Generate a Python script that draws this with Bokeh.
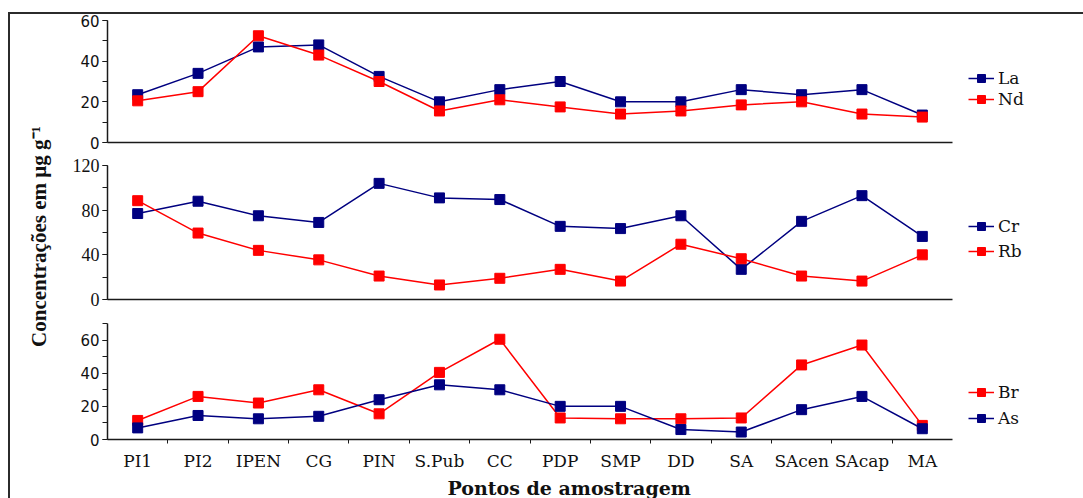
import math
from bokeh.plotting import figure
from bokeh.models import Range1d, FixedTicker, SingleIntervalTicker, Legend, LegendItem, Label, Title
from bokeh.layouts import column, row
from bokeh.embed import file_html
from bokeh.resources import INLINE

# ---- data ----
categories = ["PI1", "PI2", "IPEN", "CG", "PIN", "S.Pub", "CC", "PDP", "SMP", "DD",
              "SA", "SAcen", "SAcap", "MA"]
la = [23.5, 34, 47, 48, 32.5, 20, 26, 30, 20, 20, 26, 23.5, 26, 13.5]
nd = [20.5, 25, 52.5, 43, 30, 15.5, 21, 17.5, 14, 15.5, 18.5, 20, 14, 12.5]
cr = [77, 88, 75, 69, 104, 91, 89.5, 65.5, 63.5, 75, 27, 70, 93, 56.5]
rb = [88.5, 59.5, 44, 35.5, 21, 13, 19, 27, 16.5, 49.5, 36.5, 21, 16.5, 40]
br = [11.5, 26, 22, 30, 15.5, 40.5, 60.5, 13, 12.5, 12.5, 13, 45, 57, 8.5]
as_ = [7, 14.5, 12.5, 14, 24, 33, 30, 20, 20, 6, 4.5, 18, 26, 6.5]

y_label = "Concentrações em µg g⁻¹"
x_label = "Pontos de amostragem"

NAVY = "#000080"
RED = "#FF0000"
AXC = "#1a1a1a"

xs = list(range(1, len(categories) + 1))


def make_panel(frame_h, top, bottom, ymax, interval, series, legend_order, leg_y,
               leg_spacing, tick_font, tick_size, show_x=False):
    p = figure(frame_width=845, frame_height=frame_h,
               x_range=Range1d(0.5, len(categories) + 0.5), y_range=Range1d(0, ymax),
               output_backend="svg", toolbar_location=None,
               min_border_left=47, min_border_right=131,
               min_border_top=top, min_border_bottom=bottom)
    p.grid.visible = False
    p.outline_line_color = None
    p.background_fill_color = "white"
    p.border_fill_color = "white"

    yax = p.yaxis[0]
    yax.ticker = SingleIntervalTicker(interval=interval, num_minor_ticks=2)
    yax.axis_line_color = AXC
    yax.axis_line_width = 1.5
    yax.major_tick_line_color = AXC
    yax.minor_tick_line_color = AXC
    yax.major_tick_out = 5
    yax.major_tick_in = 0
    yax.minor_tick_out = 5
    yax.minor_tick_in = 0
    yax.major_label_text_font = tick_font
    yax.major_label_text_font_size = tick_size
    yax.major_label_text_color = "#111111"
    yax.major_label_standoff = 3

    xax = p.xaxis[0]
    xax.axis_line_color = AXC
    xax.axis_line_width = 1.5
    if show_x:
        xax.ticker = FixedTicker(ticks=xs, minor_ticks=[x + 0.5 for x in xs[:-1]])
        xax.major_label_overrides = {x: c for x, c in zip(xs, categories)}
        xax.major_tick_line_color = None
        xax.major_tick_out = 4
        xax.major_tick_in = 0
        xax.minor_tick_line_color = AXC
        xax.minor_tick_out = 4
        xax.minor_tick_in = 0
        xax.major_label_standoff = 7
        xax.major_label_text_font = "DejaVu Serif"
        xax.major_label_text_font_size = "17px"
        xax.major_label_text_color = "#111111"
    else:
        xax.ticker = FixedTicker(ticks=[], minor_ticks=[])
        xax.major_tick_line_color = None
        xax.minor_tick_line_color = None
        xax.major_tick_out = 0
        xax.minor_tick_out = 0
        xax.major_label_text_font_size = "0px"

    rends = {}
    for name, vals, color in series:
        l = p.line(xs, vals, line_color=color, line_width=1.5)
        s = p.scatter(xs, vals, marker="square", size=10, fill_color=color, line_color=color)
        rends[name] = [l, s]
    items = [LegendItem(label=n, renderers=rends[n]) for n in legend_order]
    leg = Legend(items=items, location=(16, leg_y), margin=0, padding=0,
                 spacing=leg_spacing, glyph_width=26, glyph_height=20, label_height=20,
                 label_standoff=4, border_line_color=None, background_fill_alpha=0,
                 label_text_font="DejaVu Serif", label_text_font_size="17px",
                 label_text_color="#111111")
    p.add_layout(leg, "right")
    return p


p1 = make_panel(122, 6, 10, 60, 20, [("La", la, NAVY), ("Nd", nd, RED)], ["La", "Nd"],
                33, 1, "DejaVu Sans", "15px")
p2 = make_panel(134, 13, 13, 120, 40, [("Cr", cr, NAVY), ("Rb", rb, RED)], ["Cr", "Rb"],
                38, 5, "Liberation Serif", "18px")
p3 = make_panel(116, 11, 57, 70, 20, [("Br", br, RED), ("As", as_, NAVY)], ["Br", "As"],
                11, 6, "DejaVu Sans", "15px", show_x=True)

p3.add_layout(Title(text=x_label, align="left", offset=340, standoff=2,
                    text_font="DejaVu Serif", text_font_style="bold",
                    text_font_size="19px", text_color="#111111"), "below")

ylab = figure(width=50, height=482, x_range=Range1d(0, 1), y_range=Range1d(0, 1),
              output_backend="svg", toolbar_location=None,
              min_border_left=0, min_border_right=0, min_border_top=0, min_border_bottom=0)
ylab.axis.visible = False
ylab.grid.visible = False
ylab.outline_line_color = None
ylab.border_fill_color = "white"
ylab.add_layout(Label(x=28, y=260, x_units="screen", y_units="screen", text=y_label,
                      angle=math.pi / 2, text_align="center", text_baseline="middle",
                      text_font="Liberation Serif", text_font_style="bold",
                      text_font_size="21px", text_color="#111111"))

layout = row(ylab, column(p1, p2, p3),
             styles={"border-top": "2px solid #2b2b2b", "border-left": "2px solid #2b2b2b"},
             margin=(12, 0, 0, 8))

open("out.html", "w").write(file_html(layout, INLINE))
